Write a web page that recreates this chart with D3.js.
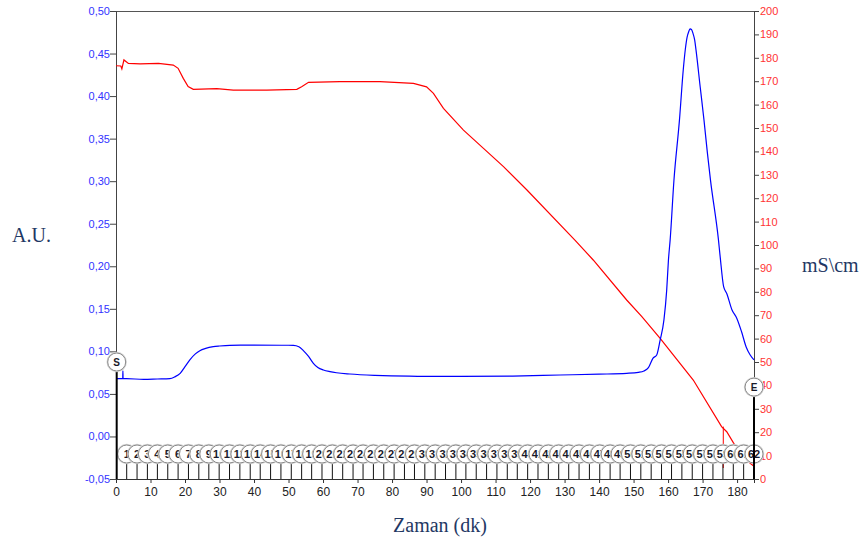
<!DOCTYPE html>
<html><head><meta charset="utf-8">
<script src="https://cdn.jsdelivr.net/npm/d3@7"></script>
<style>
html,body{margin:0;padding:0;background:#fff;}
svg{display:block;}
</style></head>
<body>
<svg id="chart" width="864" height="546"></svg>
<script>
// ---- data ----
const uvTime = [0,1.5,1.95,2.0,2.05,3,8,12,15.6,17,18.6,20,21.4,23,24.3,26,28.2,30,33,40,48,51.4,53,54.3,55.8,57.2,58.5,60.1,62,63.9,67.8,75,85,100,115,128.7,140,148,151.4,153,154.3,155.6,156.7,157.7,158.8,159.6,160.1,160.6,161.7,163.3,164.4,165.0,165.5,166.0,166.4,166.8,167.2,167.7,168.1,169.3,170.4,171.4,172.3,174.6,175.1,176.1,177,178.5,179.9,181.3,182.6,183.8,184.9];
const uvValues = [0.068,0.068,0.068,0.077,0.068,0.068,0.067,0.0675,0.068,0.070,0.0742,0.082,0.090,0.097,0.1008,0.1035,0.1055,0.1063,0.1071,0.1073,0.1072,0.1071,0.1055,0.1008,0.094,0.086,0.081,0.0781,0.0762,0.0749,0.0734,0.0718,0.0708,0.0705,0.071,0.0722,0.0732,0.0742,0.0754,0.077,0.0808,0.0918,0.0957,0.1133,0.137,0.172,0.207,0.231,0.301,0.372,0.431,0.455,0.469,0.476,0.479,0.478,0.474,0.466,0.454,0.411,0.372,0.333,0.301,0.231,0.211,0.176,0.168,0.149,0.139,0.123,0.1055,0.0957,0.090];

const condTime = [0,1.4,1.7,2.3,3.6,7,12.3,16.6,18,19.5,20.9,22.4,29.2,34,43.7,52.4,53.8,55.8,64.9,76.5,86.2,90,92,94.9,100.7,106.5,112.3,119.1,133,138.3,148,152.4,157.7,167.3,175.5,177,179.9,183.8,185];
const condValues = [176.6,176.5,175.3,179.1,177.6,177.4,177.6,176.9,175.5,171.2,167.7,166.5,166.8,166.2,166.2,166.5,167.6,169.5,169.8,169.8,169.1,167.6,164.8,158.4,149.1,141.3,133.5,123.5,102.1,93.6,76.5,69.4,60.1,42.3,22.4,20.2,13.1,6.7,5.3];

const fractionLabels = d3.range(1, 63).map(String);
const fractionTimes = [3.1,6.1,9.1,12.0,15.0,18.0,21.0,24.0,26.9,29.9,32.9,35.9,38.9,41.8,44.8,47.8,50.8,53.8,56.7,59.7,62.7,65.7,68.7,71.6,74.6,77.6,80.6,83.6,86.5,89.5,92.5,95.5,98.5,101.4,104.4,107.4,110.4,113.4,116.3,119.3,122.3,125.3,128.3,131.2,134.2,137.2,140.2,143.2,146.1,149.1,152.1,155.1,158.1,161.0,164.0,167.0,170.0,173.0,175.9,178.9,181.9,184.9];

const startMark = {label:"S", time:0.2, value:0.0875};
const endMark = {label:"E", time:184.9, value:0.058};
const condMarkTime = [176.0];
const condMarkRange = [22.4, 4.7];

const xTicks = d3.range(0, 190, 10);
const leftTicks = [-0.05,0,0.05,0.10,0.15,0.20,0.25,0.30,0.35,0.40,0.45,0.50];
const rightTicks = d3.range(0, 210, 10);

// ---- layout ----
const svg = d3.select("#chart");
const X0 = 116, X1 = 754, Y0 = 479, Y1 = 11;
const x = d3.scaleLinear().domain([0, 184.9]).range([X0, X1]);
const yL = d3.scaleLinear().domain([-0.05, 0.5]).range([Y0, Y1]);
const yR = d3.scaleLinear().domain([0, 200]).range([Y0, Y1]);

const fmtL = v => (v < 0 ? "-" : "") + Math.abs(v).toFixed(2).replace(".", ",");
const sans = "Liberation Sans, Arial, sans-serif";

// frame top line
svg.append("line").attr("x1", X0).attr("x2", X1).attr("y1", Y1+0.5).attr("y2", Y1+0.5)
  .attr("stroke", "#555").attr("stroke-width", 1);

// left axis
const gL = svg.append("g").attr("transform", `translate(${X0},0)`);
gL.call(d3.axisLeft(yL).tickValues(d3.range(-5, 51, 1).map(d => d/100)).tickSize(3).tickFormat(""));
gL.call(d3.axisLeft(yL).tickValues(leftTicks).tickSize(6).tickFormat(fmtL));
gL.selectAll("path.domain").attr("stroke", "#444");
gL.selectAll("line").attr("stroke", "#444");
gL.selectAll("text").attr("fill", "#3333ff").attr("font-family", sans).attr("font-size", 11).attr("x", -6);

// right axis
const gR = svg.append("g").attr("transform", `translate(${X1},0)`);
gR.call(d3.axisRight(yR).tickValues(d3.range(0, 201, 1)).tickSize(3).tickFormat(""));
gR.call(d3.axisRight(yR).tickValues(rightTicks).tickSize(5).tickFormat(d3.format("d")));
gR.selectAll("path.domain").attr("stroke", "#444");
gR.selectAll("line").attr("stroke", "#444");
gR.selectAll("text").attr("fill", "#ff3333").attr("font-family", sans).attr("font-size", 11).attr("x", 6);

// bottom axis
const gB = svg.append("g").attr("transform", `translate(0,${Y0})`);
gB.call(d3.axisBottom(x).tickValues(d3.range(0, 185, 2)).tickSize(2).tickFormat(""));
gB.call(d3.axisBottom(x).tickValues(xTicks).tickSize(4).tickFormat(d3.format("d")));
gB.selectAll("path.domain").attr("stroke", "#333");
gB.selectAll("line").attr("stroke", "#333");
gB.selectAll("text").attr("fill", "#222").attr("font-family", sans).attr("font-size", 12).attr("y", 8);

// lines
const uvData = uvTime.map((t, i) => [t, uvValues[i]]);
const condData = condTime.map((t, i) => [t, condValues[i]]);
svg.append("path").datum(condData)
  .attr("d", d3.line().x(d => x(d[0])).y(d => yR(d[1])))
  .attr("fill", "none").attr("stroke", "#ff0000").attr("stroke-width", 1.2);
svg.append("path").datum(uvData)
  .attr("d", d3.line().curve(d3.curveMonotoneX).x(d => x(d[0])).y(d => yL(d[1])))
  .attr("fill", "none").attr("stroke", "#0000ff").attr("stroke-width", 1.2);

// conductivity marker
condMarkTime.forEach(t => {
  svg.append("line").attr("x1", x(t)).attr("x2", x(t))
    .attr("y1", yR(condMarkRange[0])).attr("y2", yR(condMarkRange[1]))
    .attr("stroke", "#ff0000").attr("stroke-width", 1);
});

// fraction markers
const fy = 454, fr = 9;
const gF = svg.append("g");
fractionTimes.forEach((t, i) => {
  gF.append("line").attr("x1", x(t)).attr("x2", x(t)).attr("y1", fy + fr).attr("y2", Y0)
    .attr("stroke", "#111").attr("stroke-width", 1);
});
fractionTimes.forEach((t, i) => {
  const cx = x(t);
  gF.append("circle").attr("cx", cx).attr("cy", fy).attr("r", fr + 1.2)
    .attr("fill", "#d6d6d6");
  gF.append("circle").attr("cx", cx).attr("cy", fy).attr("r", fr)
    .attr("fill", "#fff").attr("stroke", "#8a8a8a").attr("stroke-width", 1);
  gF.append("text").attr("x", cx).attr("y", fy + 4).attr("text-anchor", "middle")
    .attr("font-family", sans).attr("font-size", 11).attr("font-weight", "bold")
    .attr("fill", "#1a1a2a").text(fractionLabels[i]);
});

// S and E markers
[startMark, endMark].forEach(m => {
  const cx = x(m.time), cy = yL(m.value);
  svg.append("line").attr("x1", cx).attr("x2", cx).attr("y1", cy + fr).attr("y2", Y0)
    .attr("stroke", "#000").attr("stroke-width", 2);
  svg.append("circle").attr("cx", cx).attr("cy", cy).attr("r", fr + 1.2).attr("fill", "#d6d6d6");
  svg.append("circle").attr("cx", cx).attr("cy", cy).attr("r", fr)
    .attr("fill", "#fff").attr("stroke", "#8a8a8a").attr("stroke-width", 1);
  svg.append("text").attr("x", cx).attr("y", cy + 4).attr("text-anchor", "middle")
    .attr("font-family", sans).attr("font-size", 10).attr("font-weight", "bold")
    .attr("fill", "#1a1a2a").text(m.label);
});

// axis titles
const titleFont = "Liberation Serif, Times New Roman, serif";
svg.append("text").attr("x", 12).attr("y", 242).attr("font-family", titleFont).attr("font-size", 20)
  .attr("fill", "#1f3864").text("A.U.");
svg.append("text").attr("x", 802).attr("y", 272).attr("font-family", titleFont).attr("font-size", 20)
  .attr("fill", "#1f3864").text("mS\\cm");
svg.append("text").attr("x", 440).attr("y", 532).attr("text-anchor", "middle").attr("font-family", titleFont).attr("font-size", 20)
  .attr("fill", "#1f3864").text("Zaman (dk)");
</script>
</body></html>
